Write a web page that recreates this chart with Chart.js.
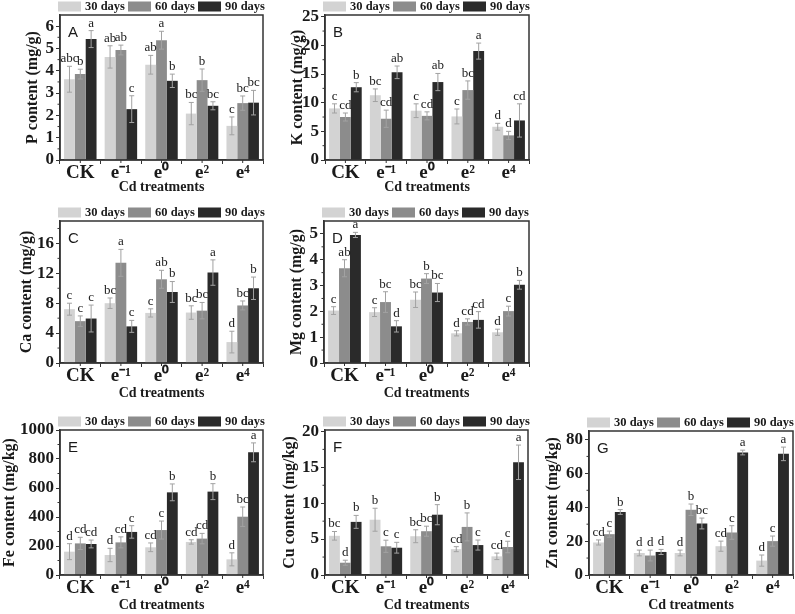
<!DOCTYPE html>
<html>
<head>
<meta charset="utf-8">
<script src="https://cdn.jsdelivr.net/npm/chart.js@4.4.1/dist/chart.umd.min.js"></script>
<style>
html, body { margin: 0; padding: 0; background: #fff; }
#page { position: relative; width: 795px; height: 614px; overflow: hidden; }
#page canvas { position: absolute; }
</style>
</head>
<body>
<div id="page"></div>
<script>
// Cd treatments and sampling times
const categories = ['CK', 'e⁻¹', 'e⁰', 'e²', 'e⁴'];
const seriesLabels = ['30 days', '60 days', '90 days'];

// each panel: rows = 30 / 60 / 90 days, columns = categories
const pMeans = [[3.62, 4.62, 4.27, 2.08, 1.53], [3.85, 4.93, 5.37, 3.58, 2.55], [5.42, 2.28, 3.55, 2.43, 2.57]];
const pErrors = [[0.58, 0.5, 0.42, 0.5, 0.4], [0.22, 0.22, 0.4, 0.5, 0.32], [0.38, 0.6, 0.3, 0.18, 0.55]];
const pLetters = [['abc', 'ab', 'ab', 'bc', 'c'], ['b', 'ab', 'a', 'b', 'bc'], ['a', 'c', 'b', 'bc', 'bc']];
const pTicks = [0, 1, 2, 3, 4, 5, 6];

const kMeans = [[9.0, 11.3, 8.6, 7.6, 5.8], [7.5, 7.2, 7.7, 12.2, 4.3], [12.7, 15.3, 13.6, 19.0, 6.9]];
const kErrors = [[0.8, 1.1, 1.2, 1.3, 0.6], [0.7, 1.5, 0.7, 1.6, 0.7], [0.8, 1.1, 1.5, 1.4, 2.9]];
const kLetters = [['c', 'bc', 'c', 'c', 'd'], ['cd', 'cd', 'cd', 'bc', 'd'], ['b', 'ab', 'ab', 'a', 'cd']];
const kTicks = [0, 5, 10, 15, 20, 25];

const caMeans = [[7.2, 8.0, 6.7, 6.75, 2.8], [5.6, 13.4, 11.2, 7.0, 7.7], [5.95, 4.9, 9.5, 12.1, 10.0]];
const caErrors = [[0.8, 0.7, 0.55, 0.9, 1.45], [0.7, 1.8, 1.2, 1.1, 0.6], [1.8, 0.8, 1.4, 1.7, 1.5]];
const caLetters = [['c', 'bc', 'c', 'bc', 'd'], ['c', 'a', 'ab', 'bc', 'bc'], ['c', 'c', 'b', 'a', 'b']];
const caTicks = [0, 4, 8, 12, 16];

const mgMeans = [[2.03, 1.97, 2.45, 1.15, 1.19], [3.67, 2.36, 3.27, 1.59, 2.01], [4.96, 1.42, 2.73, 1.67, 3.03]];
const mgErrors = [[0.15, 0.17, 0.3, 0.1, 0.12], [0.33, 0.4, 0.19, 0.12, 0.19], [0.1, 0.22, 0.35, 0.32, 0.17]];
const mgLetters = [['c', 'c', 'bc', 'd', 'd'], ['ab', 'bc', 'b', 'cd', 'c'], ['a', 'd', 'bc', 'cd', 'b']];
const mgTicks = [0, 1, 2, 3, 4, 5];

const feMeans = [[161, 138, 191, 228, 108], [218, 225, 310, 251, 402], [214, 297, 570, 575, 846]];
const feErrors = [[55, 46, 30, 15, 45], [42, 38, 62, 36, 67], [27, 43, 58, 55, 65]];
const feLetters = [['d', 'd', 'cd', 'cd', 'd'], ['cd', 'cd', 'c', 'cd', 'bc'], ['cd', 'c', 'b', 'b', 'a']];
const feTicks = [0, 200, 400, 600, 800, 1000];

const cuMeans = [[5.46, 7.7, 5.4, 3.6, 2.6], [1.71, 4.0, 6.1, 6.7, 3.9], [7.4, 3.8, 8.4, 4.17, 15.7]];
const cuErrors = [[0.6, 1.6, 0.9, 0.35, 0.45], [0.35, 0.85, 0.7, 1.95, 0.8], [0.9, 0.75, 1.4, 0.7, 2.4]];
const cuLetters = [['bc', 'b', 'bc', 'cd', 'cd'], ['d', 'c', 'bc', 'b', 'c'], ['b', 'c', 'b', 'c', 'a']];
const cuTicks = [0, 5, 10, 15, 20];

const znMeans = [[19.2, 13.0, 13.0, 17.0, 8.5], [24.1, 11.5, 38.5, 25.1, 20.0], [37.2, 13.6, 30.4, 72.3, 71.5]];
const znErrors = [[1.5, 1.7, 1.7, 3.0, 3.3], [1.8, 3.2, 3.4, 4.0, 3.0], [1.4, 1.5, 3.2, 1.4, 4.0]];
const znLetters = [['cd', 'd', 'd', 'cd', 'd'], ['c', 'd', 'b', 'c', 'c'], ['b', 'd', 'bc', 'a', 'a']];
const znTicks = [0, 20, 40, 60, 80];

const colors = ['#d3d3d3', '#8c8c8c', '#2a2a2a'];
const serif = "'Liberation Serif', 'Times New Roman', serif";
const ink = '#1a1a1a';

// box = canvas [x, y, w, h] on page, plot = [left, right, top, bottom] on page
const panels = [
  { tag: 'A', yTitle: 'P content (mg/g)', means: pMeans, errors: pErrors, letters: pLetters, ticks: pTicks, max: 6.5,
    box: [0, 0, 268, 200], plot: [60, 263, 15, 160], yTitleX: 33, xTitleY: 187 },
  { tag: 'B', yTitle: 'K content (mg/g)', means: kMeans, errors: kErrors, letters: kLetters, ticks: kTicks, max: 25.3,
    box: [268, 0, 267, 200], plot: [325, 529, 15, 160], yTitleX: 298, xTitleY: 187 },
  { tag: 'C', yTitle: 'Ca content (mg/g)', means: caMeans, errors: caErrors, letters: caLetters, ticks: caTicks, max: 19,
    box: [0, 200, 268, 205], plot: [60, 263, 221, 363], yTitleX: 27, xTitleY: 393 },
  { tag: 'D', yTitle: 'Mg content (mg/g)', means: mgMeans, errors: mgErrors, letters: mgLetters, ticks: mgTicks, max: 5.5,
    box: [268, 200, 267, 205], plot: [324, 529, 221, 363], yTitleX: 297, xTitleY: 393 },
  { tag: 'E', yTitle: 'Fe content (mg/kg)', means: feMeans, errors: feErrors, letters: feLetters, ticks: feTicks, max: 1000,
    box: [0, 405, 266, 209], plot: [60, 263, 430, 575], yTitleX: 10, xTitleY: 607 },
  { tag: 'F', yTitle: 'Cu content (mg/kg)', means: cuMeans, errors: cuErrors, letters: cuLetters, ticks: cuTicks, max: 20.2,
    box: [266, 405, 265, 209], plot: [325, 528, 430, 575], yTitleX: 290, xTitleY: 607 },
  { tag: 'G', yTitle: 'Zn content (mg/kg)', means: znMeans, errors: znErrors, letters: znLetters, ticks: znTicks, max: 85,
    box: [531, 405, 264, 209], plot: [589, 793, 431, 575], yTitleX: 553, xTitleY: 607 }
];

const page = document.getElementById('page');

function makePanel(p) {
  const [cx, cy, cw, ch] = p.box;
  const [pl, pr, pt, pb] = p.plot;
  const canvas = document.createElement('canvas');
  canvas.style.left = cx + 'px';
  canvas.style.top = cy + 'px';
  canvas.width = cw;
  canvas.height = ch;
  canvas.style.width = cw + 'px';
  canvas.style.height = ch + 'px';
  page.appendChild(canvas);

  const yTitleLH = 16 * 1.2;
  const xTitleLH = 14 * 1.2;

  // error bars, significance letters, frame, minor ticks, panel tag and legend
  const decorations = {
    id: 'decor' + p.tag,
    afterDatasetsDraw(chart) {
      const ctx = chart.ctx;
      const y = chart.scales.y;
      ctx.save();
      chart.data.datasets.forEach((ds, i) => {
        chart.getDatasetMeta(i).data.forEach((bar, j) => {
          const m = ds.data[j], e = p.errors[i][j];
          const top = y.getPixelForValue(m + e);
          const bot = y.getPixelForValue(m - e);
          ctx.strokeStyle = '#a2a2a2';
          ctx.lineWidth = 1;
          ctx.beginPath();
          ctx.moveTo(bar.x, top); ctx.lineTo(bar.x, bot);
          ctx.moveTo(bar.x - 2.5, top); ctx.lineTo(bar.x + 2.5, top);
          ctx.moveTo(bar.x - 2.5, bot); ctx.lineTo(bar.x + 2.5, bot);
          ctx.stroke();
          ctx.fillStyle = ink;
          ctx.font = '13px ' + serif;
          ctx.textAlign = 'center';
          ctx.textBaseline = 'bottom';
          ctx.fillText(p.letters[i][j], bar.x, top - 1);
        });
      });
      ctx.restore();
    },
    afterDraw(chart) {
      const ctx = chart.ctx;
      const a = chart.chartArea;
      const xs = chart.scales.x, ys = chart.scales.y;
      ctx.save();
      ctx.strokeStyle = '#333';
      ctx.lineWidth = 1.5;
      ctx.strokeRect(a.left, a.top, a.right - a.left, a.bottom - a.top);
      // minor ticks: category centres on x, half steps on y
      ctx.lineWidth = 1;
      ctx.beginPath();
      categories.forEach((c, j) => {
        const x = xs.getPixelForValue(j);
        ctx.moveTo(x, a.bottom); ctx.lineTo(x, a.bottom + 3);
      });
      for (let k = 0; k < p.ticks.length; k++) {
        const step = p.ticks[1] - p.ticks[0];
        const v = p.ticks[k] + step / 2;
        if (v >= p.max) break;
        const yy = ys.getPixelForValue(v);
        ctx.moveTo(a.left, yy); ctx.lineTo(a.left - 2.5, yy);
      }
      ctx.stroke();
      ctx.fillStyle = ink;
      ctx.font = '15px "Liberation Sans", Arial, sans-serif';
      ctx.textAlign = 'left';
      ctx.textBaseline = 'alphabetic';
      ctx.fillText(p.tag, a.left + 8, a.top + 22);
      // legend
      ctx.font = 'bold 12.5px ' + serif;
      ctx.textBaseline = 'middle';
      chart.data.datasets.forEach((ds, i) => {
        const bx = a.left - 2 + i * 70;
        const by = a.top - 13.5;
        ctx.fillStyle = ds.backgroundColor;
        ctx.fillRect(bx, by, 23, 10);
        ctx.fillStyle = ink;
        ctx.fillText(ds.label, bx + 27, by + 5);
      });
      ctx.restore();
    }
  };

  const chart = new Chart(canvas, {
    type: 'bar',
    data: {
      labels: categories,
      datasets: seriesLabels.map((s, i) => ({
        label: s,
        data: p.means[i],
        backgroundColor: colors[i],
        borderWidth: 0,
        categoryPercentage: 0.8,
        barPercentage: 1.0
      }))
    },
    options: {
      responsive: false,
      animation: false,
      layout: { padding: { left: 0, right: cx + cw - pr, top: pt - cy, bottom: 0 } },
      plugins: { legend: { display: false }, tooltip: { enabled: false } },
      scales: {
        x: {
          grid: { display: true, drawOnChartArea: false, tickLength: 4, color: '#333' },
          border: { color: '#333', width: 1.5 },
          ticks: { color: ink, padding: 0, font: { family: serif, size: 19, weight: 'bold', lineHeight: 1.0 } },
          title: {
            display: true, text: 'Cd treatments', color: ink,
            font: { family: serif, size: 14, weight: 'bold', lineHeight: 1.2 },
            padding: { top: 0, bottom: Math.max(0, cy + ch - p.xTitleY - xTitleLH / 2) }
          },
          afterFit(scale) { scale.height = cy + ch - pb; }
        },
        y: {
          min: 0,
          max: p.max,
          grid: { display: true, drawOnChartArea: false, tickLength: 4, color: '#333' },
          border: { color: '#333', width: 1.5 },
          ticks: {
            color: ink, padding: 2,
            font: { family: serif, size: 17, weight: 'bold' },
            callback: v => String(v)
          },
          afterBuildTicks(scale) { scale.ticks = p.ticks.map(v => ({ value: v })); },
          title: {
            display: true, text: p.yTitle, color: ink,
            font: { family: serif, size: 16, weight: 'bold', lineHeight: 1.2 },
            padding: { top: Math.max(0, p.yTitleX - cx - yTitleLH / 2), bottom: 0 }
          },
          afterFit(scale) { scale.width = pl - cx; }
        }
      }
    },
    plugins: [decorations]
  });
  return chart;
}

panels.forEach(makePanel);
</script>
</body>
</html>
